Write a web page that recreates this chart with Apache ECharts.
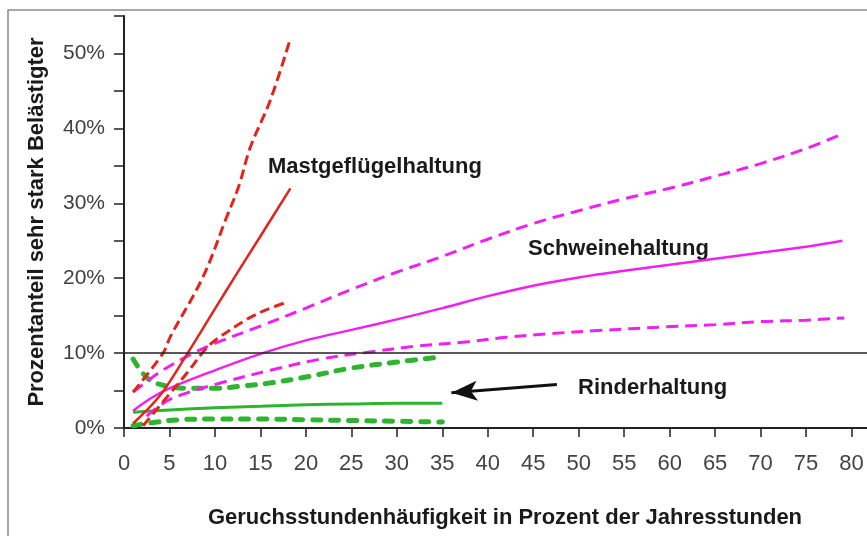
<!DOCTYPE html>
<html>
<head>
<meta charset="utf-8">
<script src="https://cdn.jsdelivr.net/npm/echarts@6/dist/echarts.min.js"></script>
<style>
html,body{margin:0;padding:0;background:#fff;}
#chart{width:867px;height:536px;}
</style>
</head>
<body>
<div id="chart"></div>
<script>
// ---- data (x = Geruchsstundenhäufigkeit %, y = % sehr stark Belästigter) ----
const xTicks = [0,5,10,15,20,25,30,35,40,45,50,55,60,65,70,75,80];
const yTickLabels = ['0%','10%','20%','30%','40%','50%'];

const gefluegelMitte = [[1,0.6],[4,4.4],[7,10],[10,15.9],[12.2,20.2],[15,25.6],[18.3,32]];
const gefluegelOben  = [[1,4.8],[4.3,10],[5.1,12.2],[8.7,20.2],[11.3,28.2],[12.6,32.2],[13.9,37.5],[16.1,43.8],[18.3,52]];
const gefluegelUnten = [[2.1,0.3],[4.5,3.8],[6.9,7.3],[9.1,10.7],[10.6,12.2],[13.5,14.5],[15.5,15.7],[17.9,16.8]];

const schweineMitte = [[1,2.3],[3,4.0],[5,5.3],[10,7.7],[15,9.9],[20,11.7],[25,13.1],[30,14.5],[35,16],[40,17.6],[45,19],[50,20.1],[55,21],[60,21.8],[65,22.6],[70,23.4],[75,24.2],[79,25]];
const schweineOben  = [[1,4.8],[4,7.5],[7.3,9.8],[10,11.3],[15,13.6],[20,16],[25,18.5],[30,20.8],[35,22.9],[40,25.2],[45,27.3],[50,29],[55,30.6],[60,32],[65,33.6],[70,35.3],[75,37.3],[78.5,39]];
const schweineUnten = [[2.5,1.6],[5,3.8],[10.6,6],[16.1,7.7],[21.6,9.2],[26.8,10.1],[32,10.9],[37.8,11.5],[42,12.1],[46.9,12.6],[52,13],[59.4,13.5],[65,13.8],[70,14.2],[75,14.4],[79.2,14.7]];

const rinderMitte = [[1,2.1],[5,2.4],[10,2.7],[15,2.9],[20,3.1],[25,3.2],[30,3.3],[35,3.3]];
const rinderOben  = [[1,9.2],[2,7.4],[3,6.3],[5,5.5],[7,5.3],[10,5.3],[13,5.6],[16,6.0],[20,6.8],[25,8.0],[30,8.8],[35,9.5]];
const rinderUnten = [[1,0.3],[3,0.7],[6,1.1],[10,1.2],[15,1.2],[20,1.1],[25,1.0],[30,0.9],[35,0.8]];

const referenzLinie = 10;              // horizontale 10%-Linie
const pfeilVon = [47.6, 5.8];          // Pfeil zur Rinderhaltung
const pfeilBis = [36.0, 4.7];

// ---- styles ----
const RED = '#e3241b', MAG = '#f020f0', GRN = '#2db52d';
const FONT = '"Liberation Sans", Arial, sans-serif';

function line(data, color, width, type, extra) {
  return Object.assign({
    type: 'line', data: data, showSymbol: false, symbol: 'none', smooth: 0.35,
    silent: true, animation: false,
    lineStyle: { color: color, width: width, type: type }
  }, extra || {});
}

const chart = echarts.init(document.getElementById('chart'), null, {renderer: 'canvas'});
chart.setOption({
  backgroundColor: '#fff',
  animation: false,
  grid: { left: 124, top: 16, width: 773, height: 412, containLabel: false, outerBoundsMode: 'none' },
  xAxis: {
    type: 'value', min: 0, max: 85, interval: 5,
    axisLine: { show: true, lineStyle: { color: '#222', width: 2 } },
    axisTick: { show: true, length: 9, lineStyle: { color: '#222', width: 1.5 } },
    axisLabel: { fontSize: 22, color: '#444', fontFamily: FONT, margin: 25,
      formatter: v => xTicks.indexOf(v) >= 0 ? String(v) : '' },
    splitLine: { show: false }
  },
  yAxis: {
    type: 'value', min: 0, max: 55, interval: 5,
    axisLine: { show: true, lineStyle: { color: '#222', width: 2 } },
    axisTick: { show: true, length: 10, lineStyle: { color: '#222', width: 1.5 } },
    axisLabel: { fontSize: 21, color: '#404040', fontFamily: FONT, margin: 19,
      formatter: v => (v % 10 === 0 ? yTickLabels[v / 10] : '') },
    splitLine: { show: false }
  },
  graphic: [
    { type: 'rect', z: -10, shape: { x: 8, y: 10, width: 950, height: 650 },
      style: { fill: 'none', stroke: '#8a8a8a', lineWidth: 1.5 } },
    { type: 'text', x: 37, y: 222, rotation: Math.PI / 2,
      style: { text: 'Prozentanteil sehr stark Belästigter', font: 'bold 22px ' + FONT, fill: '#1a1a1a',
        textAlign: 'center', textVerticalAlign: 'middle' } },
    { type: 'text', x: 505, y: 518,
      style: { text: 'Geruchsstundenhäufigkeit in Prozent der Jahresstunden', font: 'bold 22px ' + FONT, fill: '#1a1a1a',
        textAlign: 'center', textVerticalAlign: 'middle' } },
    { type: 'text', x: 268, y: 167,
      style: { text: 'Mastgeflügelhaltung', font: 'bold 22px ' + FONT, fill: '#1a1a1a',
        textAlign: 'left', textVerticalAlign: 'middle' } },
    { type: 'text', x: 528, y: 249,
      style: { text: 'Schweinehaltung', font: 'bold 22px ' + FONT, fill: '#1a1a1a',
        textAlign: 'left', textVerticalAlign: 'middle' } },
    { type: 'text', x: 578, y: 388,
      style: { text: 'Rinderhaltung', font: 'bold 22px ' + FONT, fill: '#1a1a1a',
        textAlign: 'left', textVerticalAlign: 'middle' } }
  ],
  series: [
    line(rinderUnten, GRN, 5, [8, 10], { lineStyle: { color: GRN, width: 5, type: [8, 10], cap: 'round' } }),
    line(rinderOben, GRN, 5, [8, 10], { lineStyle: { color: GRN, width: 5, type: [8, 10], cap: 'round' } }),
    line(rinderMitte, GRN, 3, 'solid', {
      markLine: {
        silent: true, animation: false, symbol: ['none', 'arrow'], symbolSize: [15, 26],
        label: { show: false },
        lineStyle: { color: '#111', width: 3, type: 'solid' },
        data: [[ { coord: pfeilVon }, { coord: pfeilBis } ]]
      }
    }),
    line(schweineUnten, MAG, 3, [12, 7]),
    line(schweineOben, MAG, 3, [12, 7]),
    line(schweineMitte, MAG, 2.5, 'solid', {
      markLine: {
        silent: true, animation: false, symbol: 'none', label: { show: false },
        lineStyle: { color: '#222', width: 1.5, type: 'solid' },
        data: [{ yAxis: referenzLinie }]
      }
    }),
    line(gefluegelUnten, RED, 3, [10, 5]),
    line(gefluegelOben, RED, 3, [10, 5]),
    line(gefluegelMitte, RED, 2.5, 'solid')
  ]
});
</script>
</body>
</html>
